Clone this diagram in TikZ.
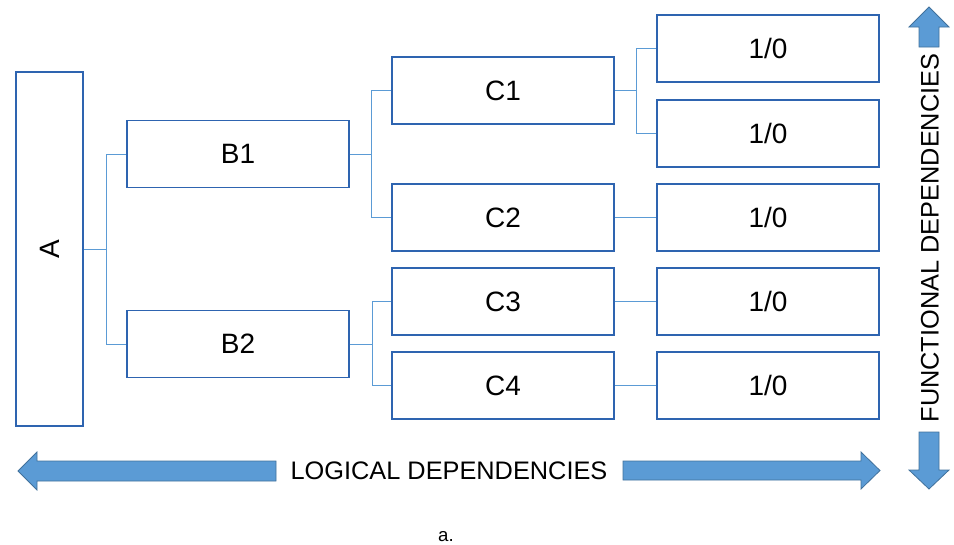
\documentclass[tikz,border=0pt]{standalone}
\usepackage{fontspec}
\setmainfont{Liberation Sans}
\definecolor{boxblue}{RGB}{46,100,176}
\definecolor{linkblue}{RGB}{91,155,213}
\definecolor{arrowfill}{RGB}{91,155,213}
\definecolor{arrowline}{RGB}{65,113,156}
\tikzset{
  box/.style={draw=boxblue, line width=1pt, fill=white, minimum width=166.5pt, minimum height=50.25pt, inner sep=0pt, font=\fontsize{21}{21}\selectfont},
  link/.style={draw=linkblue, line width=0.7pt},
  bigarrow/.style={fill=arrowfill, draw=arrowline, line width=0.6pt},
  caption/.style={inner sep=0.75pt, font=\fontsize{19}{19}\selectfont}
}
\begin{document}
\begin{tikzpicture}[x=0.75pt,y=0.75pt,yscale=-1,xscale=1]
\useasboundingbox (0,0) rectangle (954,544);

%Shape: Rectangles
\node[box, minimum width=50.25pt, minimum height=265.5pt] (A) at (49.5,249) {\rotatebox{90}{A}};
\node[box] (B1) at (238,154) {B1};
\node[box] (B2) at (238,344) {B2};
\node[box] (C1) at (503,90.5) {C1};
\node[box] (C2) at (503,217.5) {C2};
\node[box] (C3) at (503,301.5) {C3};
\node[box] (C4) at (503,385.5) {C4};
\node[box] (D1) at (768,48.5) {1/0};
\node[box] (D2) at (768,133.5) {1/0};
\node[box] (D3) at (768,217.5) {1/0};
\node[box] (D4) at (768,301.5) {1/0};
\node[box] (D5) at (768,385.5) {1/0};

%Straight Lines
\draw[link] (A.east) -- ++(23,0) coordinate (ta) |- (B1.west);
\draw[link] (ta) |- (B2.west);
\draw[link] (B1.east) -- ++(22,0) coordinate (tb1) |- (C1.west);
\draw[link] (tb1) |- (C2.west);
\draw[link] (B2.east) -- ++(23,0) coordinate (tb2) |- (C3.west);
\draw[link] (tb2) |- (C4.west);
\draw[link] (C1.east) -- ++(22,0) coordinate (tc1) |- (D1.west);
\draw[link] (tc1) |- (D2.west);
\draw[link] (C2.east) -- (D3.west);
\draw[link] (C3.east) -- (D4.west);
\draw[link] (C4.east) -- (D5.west);

%Shape: Block Arrows
\draw[bigarrow] (18,471) -- (37,452) -- (37,461) -- (276,461) -- (276,481) -- (37,481) -- (37,490) -- cycle;
\draw[bigarrow] (880,470.5) -- (861,452) -- (861,461) -- (623,461) -- (623,480) -- (861,480) -- (861,489) -- cycle;
\draw[bigarrow] (929,7) -- (949,27) -- (939,27) -- (939,47) -- (919,47) -- (919,27) -- (909,27) -- cycle;
\draw[bigarrow] (929,489) -- (949,470) -- (939,470) -- (939,432) -- (919,432) -- (919,470) -- (909,470) -- cycle;

% Text Node
\node[caption] (logic) at (449,471) {LOGICAL DEPENDENCIES};
% Text Node
\node[caption, rotate=90] (func) at (930,238) {FUNCTIONAL DEPENDENCIES};
% Text Node
\node[inner sep=0.75pt, font=\fontsize{14}{14}\selectfont, anchor=base] (sub) at (446,541) {a.};
\end{tikzpicture}
\end{document}
